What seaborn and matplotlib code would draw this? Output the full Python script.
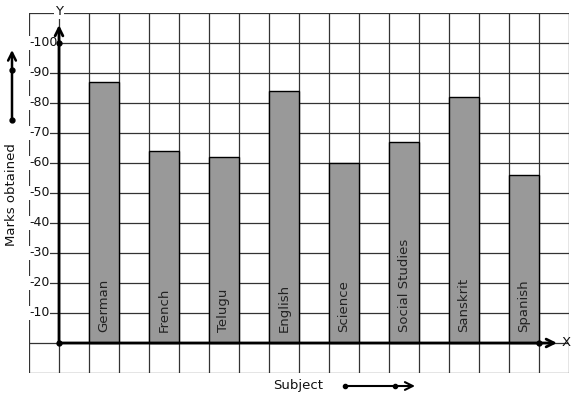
import matplotlib
matplotlib.use("Agg")
import matplotlib.pyplot as plt
import seaborn as sns
import pandas as pd
import numpy as np

# data
subjects = ["German", "French", "Telugu", "English", "Science",
            "Social Studies", "Sanskrit", "Spanish"]
marks = [87, 64, 62, 84, 60, 67, 82, 56]
y_ticks = [10, 20, 30, 40, 50, 60, 70, 80, 90, 100]

df = pd.DataFrame({"subject": subjects, "marks": marks})

sns.set_style("white")
plt.rcParams["font.family"] = ["DejaVu Sans"]

W, H = 577, 399
fig = plt.figure(figsize=(W / 100, H / 100), dpi=100)
ax = fig.add_axes([29 / W, (H - 373) / H, 540 / W, 360 / H])

sns.barplot(data=df, x="subject", y="marks", color="#999999", width=0.5,
            edgecolor="black", linewidth=1.0, saturation=1, ax=ax, zorder=3)

# graph-paper grid: one cell = half a category, 10 marks
x0, x1 = -1.25, 7.75
ax.set_xlim(x0, x1)
ax.set_ylim(-10, 110)
for gx in np.arange(x0, x1 + 0.01, 0.5):
    ax.axvline(gx, color="#333333", lw=0.9, zorder=1)
for gy in range(-10, 111, 10):
    ax.axhline(gy, color="#333333", lw=0.9, zorder=1)

ax.set_xticks([])
ax.set_yticks([])
ax.set_xlabel("")
ax.set_ylabel("")
for s in ax.spines.values():
    s.set_visible(False)

# axes with arrows
yax = -0.75
ax.annotate("", xy=(7.55, 0), xytext=(yax, 0),
            arrowprops=dict(arrowstyle="->", lw=2, color="black",
                            mutation_scale=14, shrinkA=0, shrinkB=0),
            zorder=5, annotation_clip=False)
ax.annotate("", xy=(yax, 106), xytext=(yax, 0),
            arrowprops=dict(arrowstyle="->", lw=2, color="black",
                            mutation_scale=14, shrinkA=0, shrinkB=0),
            zorder=5, annotation_clip=False)
ax.plot([yax, yax, 7.25], [0, 100, 0], "o", color="black", ms=3.5,
        zorder=6, clip_on=False)
ax.text(7.62, 0, "X", ha="left", va="center", fontsize=9.5, color="#111111",
        zorder=6, clip_on=False)
ax.text(yax, 110.5, "Y", ha="center", va="center", fontsize=9.5,
        color="#111111", zorder=6, clip_on=False,
        bbox=dict(facecolor="white", edgecolor="none", pad=0.5))

# tick labels between border and y axis
for t in y_ticks:
    ax.text(x0 + 0.005, t, f"-{t}", ha="left", va="center", fontsize=9,
            color="#111111", zorder=4,
            bbox=dict(facecolor="white", edgecolor="none", pad=0.2))

# subject names inside the bars
for i, name in enumerate(subjects):
    ax.text(i, 3.5, name, rotation=90, ha="center", va="bottom",
            fontsize=9.5, color="#222222", zorder=4)

# outer labels and direction arrows
fig.text(12 / W, 1 - 195 / H, "Marks obtained", rotation=90, ha="center",
         va="center", fontsize=9.5, color="#111111")
fig.text(298 / W, 1 - 385 / H, "Subject", ha="center", va="center",
         fontsize=9.5, color="#111111")

ax.annotate("", xy=(12, H - 50), xytext=(12, H - 120), xycoords="figure pixels",
            textcoords="figure pixels",
            arrowprops=dict(arrowstyle="->", lw=1.8, color="black",
                            mutation_scale=14, shrinkA=0, shrinkB=0),
            annotation_clip=False)
ax.annotate("", xy=(415, H - 386), xytext=(345, H - 386),
            xycoords="figure pixels", textcoords="figure pixels",
            arrowprops=dict(arrowstyle="->", lw=1.5, color="black",
                            mutation_scale=14, shrinkA=0, shrinkB=0),
            annotation_clip=False)
fig.add_artist(plt.Line2D([12 / W, 12 / W], [1 - 70 / H, 1 - 120 / H],
                          marker="o", ms=3.5, lw=0, color="black"))
fig.add_artist(plt.Line2D([345 / W, 395 / W], [1 - 386 / H, 1 - 386 / H],
                          marker="o", ms=3, lw=0, color="black"))

fig.savefig("out.png", dpi=100, facecolor="white")
